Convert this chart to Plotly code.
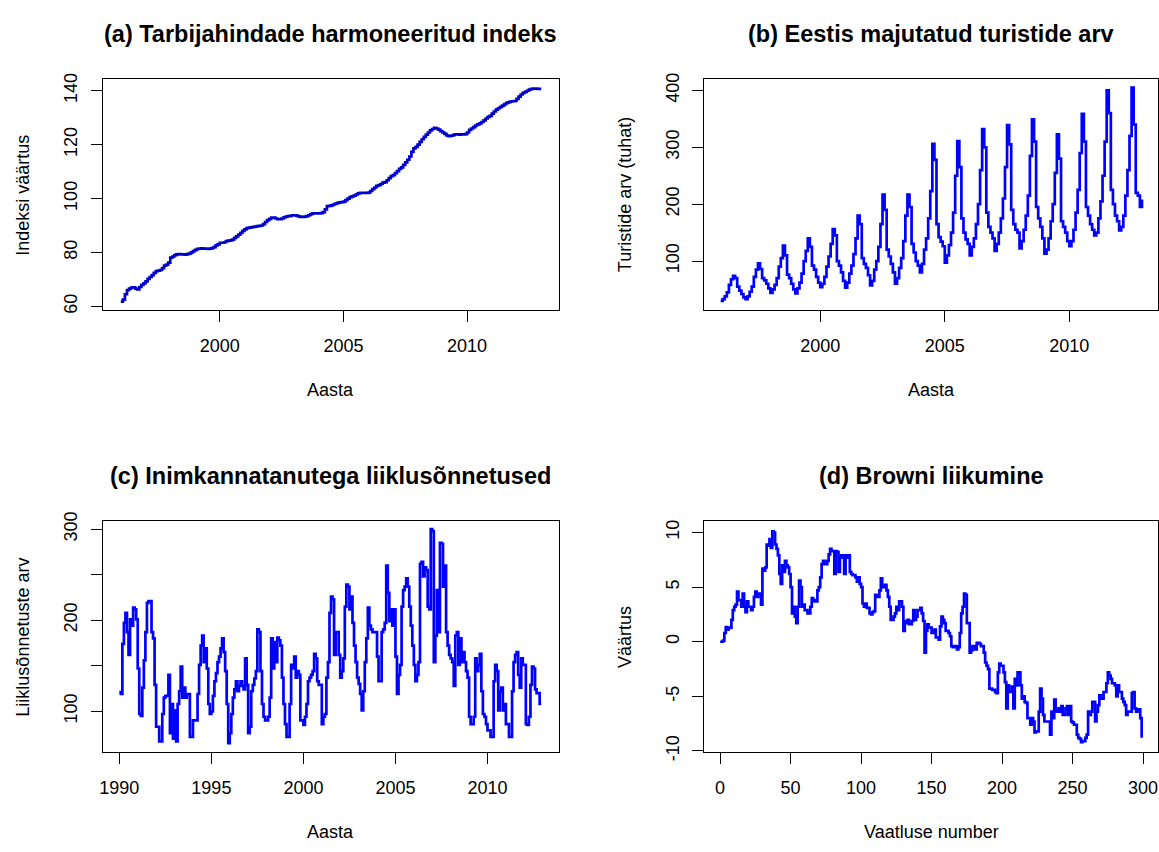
import plotly.graph_objects as go

W, H = 1159, 852
FONT = "Liberation Sans, Arial, sans-serif"

# (a) Harmonised index of consumer prices, monthly, Jan 1996 - Jan 2013
hicp_1996 = [61.8, 62.5, 64.5, 66.0, 66.6, 67.0, 67.1, 66.6, 66.3, 67.2, 68.0, 68.5]
hicp_1997 = [69.3, 70.2, 70.9, 71.6, 72.4, 73.1, 73.3, 73.5, 74.2, 75.1, 75.5, 76.2]
hicp_1998 = [78.1, 78.5, 79.0, 79.3, 79.4, 79.3, 79.3, 79.2, 79.4, 79.6, 80.0, 80.5]
hicp_1999 = [81.0, 81.3, 81.4, 81.5, 81.4, 81.4, 81.3, 81.4, 81.6, 82.0, 82.6, 83.0]
hicp_2000 = [83.6, 83.6, 83.8, 84.2, 84.4, 84.5, 84.8, 85.4, 86.0, 86.6, 87.3, 88.0]
hicp_2001 = [88.6, 89.0, 89.2, 89.3, 89.5, 89.6, 89.8, 89.9, 90.0, 90.5, 91.3, 92.0]
hicp_2002 = [92.5, 92.9, 92.9, 92.6, 92.4, 92.4, 92.6, 93.0, 93.3, 93.5, 93.6, 93.8]
hicp_2003 = [93.8, 93.7, 93.4, 93.2, 93.2, 93.3, 93.5, 93.8, 94.2, 94.5, 94.5, 94.5]
hicp_2004 = [94.5, 94.6, 95.0, 96.0, 97.2, 97.3, 97.5, 97.8, 98.1, 98.4, 98.6, 98.7]
hicp_2005 = [98.9, 99.4, 100.0, 100.5, 100.8, 101.1, 101.5, 101.9, 102.1, 102.1, 102.1, 102.1]
hicp_2006 = [102.2, 102.8, 103.5, 104.1, 104.7, 105.0, 105.4, 105.9, 106.1, 106.8, 107.6, 108.3]
hicp_2007 = [108.7, 109.4, 110.2, 111.0, 111.6, 112.5, 113.4, 114.4, 115.6, 117.3, 118.6, 119.2]
hicp_2008 = [120.0, 121.0, 122.0, 122.9, 123.7, 124.5, 125.3, 125.8, 126.2, 126.0, 125.6, 125.0]
hicp_2009 = [124.5, 124.0, 123.4, 123.2, 123.3, 123.5, 123.8, 123.8, 123.7, 123.8, 123.8, 123.9]
hicp_2010 = [124.5, 125.5, 126.0, 126.5, 127.1, 127.5, 127.9, 128.4, 129.0, 129.7, 130.3, 130.7]
hicp_2011 = [131.5, 132.3, 133.0, 133.5, 134.0, 134.5, 135.0, 135.5, 135.8, 136.0, 136.1, 136.2]
hicp_2012 = [137.0, 137.8, 138.6, 139.2, 139.6, 140.0, 140.4, 140.7, 140.8, 140.8, 140.7, 140.7]
hicp_2013 = [140.7]

# (b) Tourists accommodated in Estonia (thousands), monthly, 1996-2012
tour_1996 = [30, 33, 38, 45, 58, 68, 74, 70, 55, 48, 42, 36]
tour_1997 = [33, 38, 46, 55, 72, 85, 96, 86, 70, 66, 60, 52]
tour_1998 = [44, 50, 58, 70, 90, 105, 127, 110, 76, 70, 60, 50]
tour_1999 = [43, 52, 62, 78, 100, 118, 140, 125, 92, 85, 72, 62]
tour_2000 = [54, 60, 72, 90, 108, 130, 156, 145, 100, 92, 80, 65]
tour_2001 = [53, 62, 78, 92, 112, 140, 180, 165, 105, 95, 88, 75]
tour_2002 = [57, 65, 85, 100, 125, 165, 217, 190, 120, 108, 95, 80]
tour_2003 = [60, 70, 88, 105, 135, 180, 217, 195, 130, 115, 100, 92]
tour_2004 = [80, 95, 120, 140, 175, 223, 306, 278, 165, 142, 134, 126]
tour_2005 = [97, 110, 128, 150, 185, 250, 311, 265, 175, 150, 138, 130]
tour_2006 = [110, 125, 140, 165, 200, 260, 332, 300, 185, 160, 150, 140]
tour_2007 = [118, 130, 150, 175, 210, 265, 339, 305, 190, 165, 155, 150]
tour_2008 = [122, 135, 155, 180, 215, 285, 349, 310, 195, 175, 160, 140]
tour_2009 = [113, 120, 140, 170, 200, 255, 323, 280, 170, 160, 150, 135]
tour_2010 = [126, 135, 155, 185, 225, 290, 359, 310, 195, 180, 165, 155]
tour_2011 = [145, 150, 175, 205, 250, 310, 400, 360, 225, 200, 180, 170]
tour_2012 = [154, 160, 180, 215, 260, 320, 405, 340, 220, 215, 195, 208]

# (c) Road accidents with casualties, monthly, 1990-2012
acc_1990 = [121, 119, 174, 197, 208, 187, 162, 201, 194, 214, 212, 201]
acc_1991 = [147, 97, 95, 126, 156, 187, 219, 221, 221, 187, 180, 129]
acc_1992 = [83, 83, 67, 67, 97, 115, 117, 117, 140, 76, 108, 70]
acc_1993 = [101, 67, 108, 122, 149, 115, 126, 115, 119, 119, 72, 72]
acc_1994 = [90, 90, 90, 119, 151, 172, 183, 154, 169, 147, 108, 97]
acc_1995 = [100, 117, 133, 142, 154, 160, 169, 180, 165, 144, 108, 65]
acc_1996 = [76, 97, 115, 124, 133, 122, 128, 133, 128, 124, 158, 129]
acc_1997 = [76, 83, 122, 129, 136, 144, 190, 187, 144, 108, 94, 90]
acc_1998 = [90, 94, 115, 180, 147, 176, 154, 181, 178, 172, 137, 108]
acc_1999 = [86, 72, 72, 108, 151, 147, 160, 137, 144, 140, 90, 90]
acc_2000 = [85, 94, 108, 133, 137, 140, 144, 163, 158, 133, 129, 129]
acc_2001 = [86, 94, 97, 137, 154, 208, 226, 223, 162, 187, 187, 162]
acc_2002 = [137, 144, 158, 215, 239, 237, 212, 226, 197, 172, 154, 137]
acc_2003 = [130, 119, 101, 122, 154, 180, 214, 194, 190, 187, 187, 187]
acc_2004 = [160, 133, 133, 187, 190, 197, 260, 230, 199, 212, 194, 212]
acc_2005 = [160, 119, 140, 151, 215, 233, 237, 246, 237, 215, 194, 172]
acc_2006 = [151, 133, 140, 154, 262, 264, 248, 258, 255, 215, 212, 300]
acc_2007 = [298, 154, 183, 233, 187, 285, 284, 237, 260, 187, 172, 162]
acc_2008 = [158, 154, 128, 183, 187, 151, 180, 154, 165, 154, 144, 137]
acc_2009 = [94, 86, 86, 94, 158, 144, 151, 163, 122, 97, 94, 86]
acc_2010 = [79, 79, 72, 72, 133, 151, 144, 101, 122, 126, 101, 108]
acc_2011 = [86, 86, 72, 72, 122, 154, 162, 165, 140, 126, 158, 151]
acc_2012 = [151, 86, 85, 94, 129, 149, 147, 124, 120, 120, 108, 108]

# (d) Brownian motion path, observations 0..299
bm_000 = [0.0, 0.0, 0.1, 0.8, 1.35, 1.1, 1.26, 1.3, 2.0, 2.9, 3.2, 3.4, 4.6, 3.8, 3.8, 3.2, 4.4, 3.2, 2.7, 3.7,
          3.2, 3.2, 2.9, 3.2, 4.1, 4.6, 4.1, 4.4, 4.4, 3.4, 6.7, 6.5, 6.8, 8.9, 8.8, 9.4, 8.6, 10.1, 10.0, 8.9,
          8.5, 7.9, 6.2, 5.3, 7.0, 6.4, 7.4, 7.0, 6.8, 6.2]
bm_050 = [5.0, 2.6, 3.2, 2.3, 1.7, 3.2, 5.6, 5.0, 3.2, 3.4, 2.9, 2.9, 2.6, 2.6, 3.2, 4.0, 3.8, 3.7, 3.7, 4.7,
          5.0, 5.9, 7.1, 7.4, 7.1, 7.1, 7.4, 8.0, 8.5, 8.3, 8.3, 6.2, 8.3, 8.2, 6.4, 7.7, 7.9, 7.9, 6.2, 7.9,
          7.7, 7.9, 6.4, 6.2, 6.1, 6.1, 5.9, 5.5, 5.9, 5.3]
bm_100 = [5.0, 3.5, 3.2, 3.5, 3.1, 3.1, 2.6, 2.5, 2.7, 2.8, 4.3, 4.1, 4.1, 4.7, 5.8, 5.0, 5.0, 5.2, 4.7, 4.1,
          3.2, 2.0, 2.0, 2.3, 2.6, 3.2, 2.9, 3.7, 3.7, 3.2, 1.0, 1.9, 1.7, 2.0, 1.6, 1.6, 1.9, 2.9, 2.0, 2.3,
          2.9, 2.9, 3.1, 2.6, 1.9, -1.0, 1.0, 1.6, 1.3, 1.3]
bm_150 = [0.8, 0.8, 1.1, 0.4, 0.4, 0.2, 1.4, 2.3, 2.0, 1.7, 1.0, 1.0, 0.8, 0.5, -0.4, -0.5, -0.4, -0.4, -0.7, -0.5,
          0.8, 2.6, 3.2, 4.4, 4.3, 1.7, 1.7, -1.0, -0.8, -0.4, -0.4, -0.7, -0.1, -0.1, -0.2, -0.4, -0.4, -1.0, -1.9, -2.2,
          -2.5, -4.3, -4.3, -4.4, -4.4, -4.6, -4.7, -2.8, -2.0, -2.2]
bm_200 = [-2.2, -2.8, -3.7, -6.1, -4.0, -4.6, -4.6, -4.1, -6.1, -3.4, -4.0, -2.8, -2.8, -4.0, -5.2, -5.0, -5.5, -5.6, -7.0, -7.0,
          -7.6, -7.0, -7.3, -8.3, -8.2, -8.2, -6.4, -4.3, -5.2, -6.7, -7.3, -7.3, -7.3, -7.3, -8.5, -6.4, -7.0, -5.3, -6.4, -6.4,
          -6.1, -6.4, -5.9, -6.7, -6.7, -6.1, -5.9, -6.7, -5.9, -7.3]
bm_250 = [-7.4, -7.6, -7.6, -8.5, -8.8, -8.9, -9.2, -9.1, -9.1, -8.8, -8.5, -6.4, -6.7, -6.4, -5.5, -5.5, -7.3, -6.4, -5.8, -4.9,
          -5.2, -5.2, -4.6, -4.6, -3.8, -2.8, -3.1, -3.4, -3.8, -3.8, -4.0, -5.0, -4.0, -4.6, -4.6, -5.2, -5.5, -5.8, -6.7, -6.4,
          -6.4, -6.4, -4.7, -4.6, -6.1, -6.4, -6.2, -6.2, -7.0, -8.8]

# tick values and labels for the value axis of (d), written with a plain hyphen
bm_ticks = [-10, -5, 0, 5, 10]
bm_ticklabels = ["-10", "-5", "0", "5", "10"]

hicp = sum([hicp_1996, hicp_1997, hicp_1998, hicp_1999, hicp_2000, hicp_2001, hicp_2002,
            hicp_2003, hicp_2004, hicp_2005, hicp_2006, hicp_2007, hicp_2008, hicp_2009,
            hicp_2010, hicp_2011, hicp_2012, hicp_2013], [])
tourists = sum([tour_1996, tour_1997, tour_1998, tour_1999, tour_2000, tour_2001, tour_2002,
                tour_2003, tour_2004, tour_2005, tour_2006, tour_2007, tour_2008, tour_2009,
                tour_2010, tour_2011, tour_2012], [])
accidents = sum([acc_1990, acc_1991, acc_1992, acc_1993, acc_1994, acc_1995, acc_1996, acc_1997,
                 acc_1998, acc_1999, acc_2000, acc_2001, acc_2002, acc_2003, acc_2004, acc_2005,
                 acc_2006, acc_2007, acc_2008, acc_2009, acc_2010, acc_2011, acc_2012], [])
brown = bm_000 + bm_050 + bm_100 + bm_150 + bm_200 + bm_250


def monthly(start_year, n):
    return [start_year + i / 12 for i in range(n)]


x_hicp = monthly(1996, len(hicp))
x_tour = monthly(1996, len(tourists))
x_acc = monthly(1990, len(accidents))
x_brown = list(range(len(brown)))

# panel boxes in pixels: (left, right, top, bottom)
boxes = {
    "a": (100, 557, 71, 307),
    "b": (703, 1158, 71, 307),
    "c": (100, 557, 523, 759),
    "d": (703, 1158, 523, 759),
}


def xdom(b):
    return [b[0] / W, b[1] / W]


def ydom(b):
    return [1 - b[3] / H, 1 - b[2] / H]


fig = go.Figure()
line_a = dict(color="#0000CD", width=2.7, shape="hv")
line_o = dict(color="#0000FF", width=2.7, shape="hv")
fig.add_trace(go.Scatter(x=x_hicp, y=hicp, mode="lines", line=line_a, xaxis="x", yaxis="y"))
fig.add_trace(go.Scatter(x=x_tour, y=tourists, mode="lines", line=line_o, xaxis="x2", yaxis="y2"))
fig.add_trace(go.Scatter(x=x_acc, y=accidents, mode="lines", line=line_o, xaxis="x3", yaxis="y3"))
fig.add_trace(go.Scatter(x=x_brown, y=brown, mode="lines", line=line_o, xaxis="x4", yaxis="y4"))

tickfont = dict(family=FONT, size=18, color="#000000")
common = dict(showline=True, mirror=True, linecolor="#000000", linewidth=1.2,
              ticks="outside", ticklen=11, tickwidth=1, tickcolor="#000000",
              showgrid=False, zeroline=False, tickfont=tickfont, fixedrange=True)
xcommon = dict(ticklabelstandoff=8, **common)
ycommon = dict(tickangle=-90, ticklabelstandoff=6, **common)

fig.update_layout(
    xaxis=dict(domain=xdom(boxes["a"]), range=[1995.27, 2013.70], anchor="y",
               tickvals=[2000, 2005, 2010], **xcommon),
    yaxis=dict(domain=ydom(boxes["a"]), range=[58.6, 144.2], anchor="x",
               tickvals=[60, 80, 100, 120, 140], **ycommon),
    xaxis2=dict(domain=xdom(boxes["b"]), range=[1995.34, 2013.56], anchor="y2",
                tickvals=[2000, 2005, 2010], **xcommon),
    yaxis2=dict(domain=ydom(boxes["b"]), range=[13.6, 419.4], anchor="x2",
                tickvals=[100, 200, 300, 400], **ycommon),
    xaxis3=dict(domain=xdom(boxes["c"]), range=[1989.10, 2013.86], anchor="y3",
                tickvals=[1990, 1995, 2000, 2005, 2010], **xcommon),
    yaxis3=dict(domain=ydom(boxes["c"]), range=[55.2, 308.6], anchor="x3",
                tickvals=[100, 150, 200, 250, 300], ticktext=["100", "", "200", "", "300"],
                **ycommon),
    xaxis4=dict(domain=xdom(boxes["d"]), range=[-11.3, 310.6], anchor="y4",
                tickvals=[0, 50, 100, 150, 200, 250, 300], **xcommon),
    yaxis4=dict(domain=ydom(boxes["d"]), range=[-10.1, 11.02], anchor="x4",
                tickvals=bm_ticks, ticktext=bm_ticklabels, **ycommon),
)

titles = {
    "a": "(a) Tarbijahindade harmoneeritud indeks",
    "b": "(b) Eestis majutatud turistide arv",
    "c": "(c) Inimkannatanutega liiklusõnnetused",
    "d": "(d) Browni liikumine",
}
xtitles = {"a": "Aasta", "b": "Aasta", "c": "Aasta", "d": "Vaatluse number"}
ytitles = {
    "a": "Indeksi väärtus",
    "b": "Turistide arv (tuhat)",
    "c": "Liiklusõnnetuste arv",
    "d": "Väärtus",
}

annotations = []
for k, b in boxes.items():
    cx = (b[0] + b[1]) / 2
    cy = (b[2] + b[3]) / 2
    annotations.append(dict(text=titles[k], x=cx / W, y=1 - (b[2] - 46) / H,
                            xref="paper", yref="paper", showarrow=False,
                            xanchor="center", yanchor="middle",
                            font=dict(family=FONT, size=23.5, color="#000000", weight="bold")))
    annotations.append(dict(text=xtitles[k], x=cx / W, y=1 - (b[3] + 82) / H,
                            xref="paper", yref="paper", showarrow=False,
                            xanchor="center", yanchor="middle",
                            font=dict(family=FONT, size=18, color="#000000")))
    annotations.append(dict(text=ytitles[k], x=(b[0] - 80) / W, y=1 - cy / H,
                            xref="paper", yref="paper", showarrow=False, textangle=-90,
                            xanchor="center", yanchor="middle",
                            font=dict(family=FONT, size=18, color="#000000")))

fig.update_layout(
    annotations=annotations,
    width=W, height=H,
    margin=dict(l=0, r=0, t=0, b=0),
    paper_bgcolor="#FFFFFF", plot_bgcolor="#FFFFFF",
    showlegend=False,
    font=dict(family=FONT, color="#000000"),
)

fig.write_html("out.html", config={"displayModeBar": False})
